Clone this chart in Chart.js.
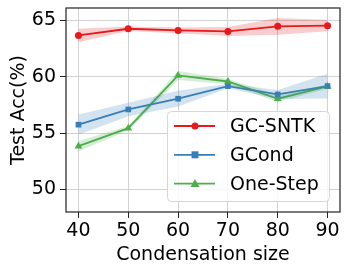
<!DOCTYPE html>
<html>
<head>
<meta charset="utf-8">
<script src="https://cdn.jsdelivr.net/npm/chart.js@4"></script>
<style>
  html, body { margin: 0; padding: 0; background: #fff; }
  #wrap { width: 348px; height: 273px; }
</style>
</head>
<body>
<div id="wrap"><canvas id="accChart" width="348" height="273"></canvas></div>
<script>
// data
const sizes = [40, 50, 60, 70, 80, 90];
const xTicks = [40, 50, 60, 70, 80, 90];
const yTicks = [50, 55, 60, 65];

const gcsntk = [63.67, 64.26, 64.11, 64.02, 64.47, 64.53];
const gcsntkStd = [0.6, 0.2, 0.25, 0.4, 0.75, 0.5];
const gcond = [55.75, 57.1, 58.05, 59.17, 58.43, 59.17];
const gcondStd = [0.9, 0.6, 0.7, 0.2, 0.4, 1.1];
const oneStep = [53.84, 55.44, 60.12, 59.58, 58.05, 59.14];
const oneStepStd = [0.45, 0.2, 0.4, 0.25, 0.3, 0.2];

const FONT = 'DejaVu Sans';
const RED = '#e41a1c', BLUE = '#377eb8', GREEN = '#4daf4a';

function pts(vals, off) {
    return sizes.map((x, i) => ({ x: x, y: vals[i] + (off ? off[i] : 0) }));
}
function neg(arr) { return arr.map(v => -v); }

function band(vals, std, color) {
    return [
        { data: pts(vals, neg(std)), borderWidth: 0, pointRadius: 0, fill: false, tension: 0 },
        { data: pts(vals, std), borderWidth: 0, pointRadius: 0, backgroundColor: color, fill: '-1', tension: 0 }
    ];
}

const series = [
    { label: 'GC-SNTK', vals: gcsntk, color: RED, style: 'circle', r: 3.5 },
    { label: 'GCond', vals: gcond, color: BLUE, style: 'rect', r: 4 },
    { label: 'One-Step', vals: oneStep, color: GREEN, style: 'triangle', r: 4.5 }
];

const datasets = [
    ...band(gcsntk, gcsntkStd, 'rgba(228,26,28,0.22)'),
    ...band(gcond, gcondStd, 'rgba(55,126,184,0.22)'),
    ...band(oneStep, oneStepStd, 'rgba(77,175,74,0.22)')
];
series.forEach(s => {
    datasets.push({
        label: s.label,
        data: pts(s.vals),
        borderColor: s.color,
        backgroundColor: s.color,
        borderWidth: 1.8,
        pointStyle: s.style,
        pointRadius: s.r,
        pointBorderWidth: 0,
        fill: false,
        tension: 0
    });
});

// matplotlib style legend inside the axes
const boxLegend = {
    id: 'boxLegend',
    afterDatasetsDraw(chart) {
        const ctx = chart.ctx, area = chart.chartArea;
        const w = 162, h = 90;
        const x0 = area.right - 11 - w, y0 = area.bottom - 11 - h;
        ctx.save();
        ctx.beginPath();
        ctx.roundRect(x0 + 0.5, y0 + 0.5, w, h, 4);
        ctx.fillStyle = 'rgba(255,255,255,0.8)';
        ctx.fill();
        ctx.strokeStyle = '#d6d6d6';
        ctx.lineWidth = 1;
        ctx.stroke();
        ctx.font = '19px ' + FONT;
        ctx.textBaseline = 'middle';
        series.forEach((s, i) => {
            const y = y0 + 15 + i * 28.8;
            ctx.strokeStyle = s.color;
            ctx.lineWidth = 1.8;
            ctx.beginPath();
            ctx.moveTo(x0 + 7, y);
            ctx.lineTo(x0 + 48, y);
            ctx.stroke();
            ctx.fillStyle = s.color;
            ctx.beginPath();
            const cx = x0 + 28;
            if (s.style === 'circle') {
                ctx.arc(cx, y, s.r, 0, Math.PI * 2);
            } else if (s.style === 'rect') {
                ctx.rect(cx - 3.5, y - 3.5, 7, 7);
            } else {
                ctx.moveTo(cx, y - 4.5);
                ctx.lineTo(cx + 4.5, y + 3.5);
                ctx.lineTo(cx - 4.5, y + 3.5);
                ctx.closePath();
            }
            ctx.fill();
            ctx.fillStyle = '#000';
            ctx.fillText(s.label, x0 + 63, y + 1);
        });
        ctx.restore();
    }
};

// black frame around the plot area
const frame = {
    id: 'frame',
    afterDraw(chart) {
        const a = chart.chartArea, ctx = chart.ctx;
        ctx.save();
        ctx.strokeStyle = '#222';
        ctx.lineWidth = 1.2;
        ctx.strokeRect(a.left, a.top, a.right - a.left, a.bottom - a.top);
        ctx.restore();
    }
};

new Chart(document.getElementById('accChart').getContext('2d'), {
    type: 'line',
    data: { datasets: datasets },
    plugins: [boxLegend, frame],
    options: {
        responsive: false,
        animation: false,
        layout: { padding: { top: 8, right: 8, left: 0, bottom: 0 } },
        plugins: {
            legend: { display: false },
            tooltip: { enabled: false },
            filler: { propagate: false }
        },
        scales: {
            x: {
                type: 'linear',
                min: 37.5,
                max: 92.5,
                afterBuildTicks: s => { s.ticks = xTicks.map(v => ({ value: v })); },
                afterFit: s => { s.height = 61; s.paddingLeft = 0; s.paddingRight = 0; },
                grid: { color: '#d2d2d2', lineWidth: 1, tickColor: '#222', tickLength: 6 },
                border: { display: false },
                ticks: { color: '#000', font: { family: FONT, size: 19 }, padding: 2, maxRotation: 0 },
                title: { display: true, text: 'Condensation size', color: '#000', font: { family: FONT, size: 19 }, padding: { top: 0, bottom: 7 } }
            },
            y: {
                min: 48,
                max: 66.1,
                afterBuildTicks: s => { s.ticks = yTicks.map(v => ({ value: v })); },
                afterFit: s => { s.width = 66; s.paddingTop = 0; s.paddingBottom = 0; },
                grid: { color: '#d2d2d2', lineWidth: 1, tickColor: '#222', tickLength: 6 },
                border: { display: false },
                ticks: { color: '#000', font: { family: FONT, size: 19 }, padding: 4 },
                title: { display: true, text: 'Test Acc(%)', color: '#000', font: { family: FONT, size: 19 }, padding: { top: 8, bottom: 0 } }
            }
        }
    }
});
</script>
</body>
</html>
